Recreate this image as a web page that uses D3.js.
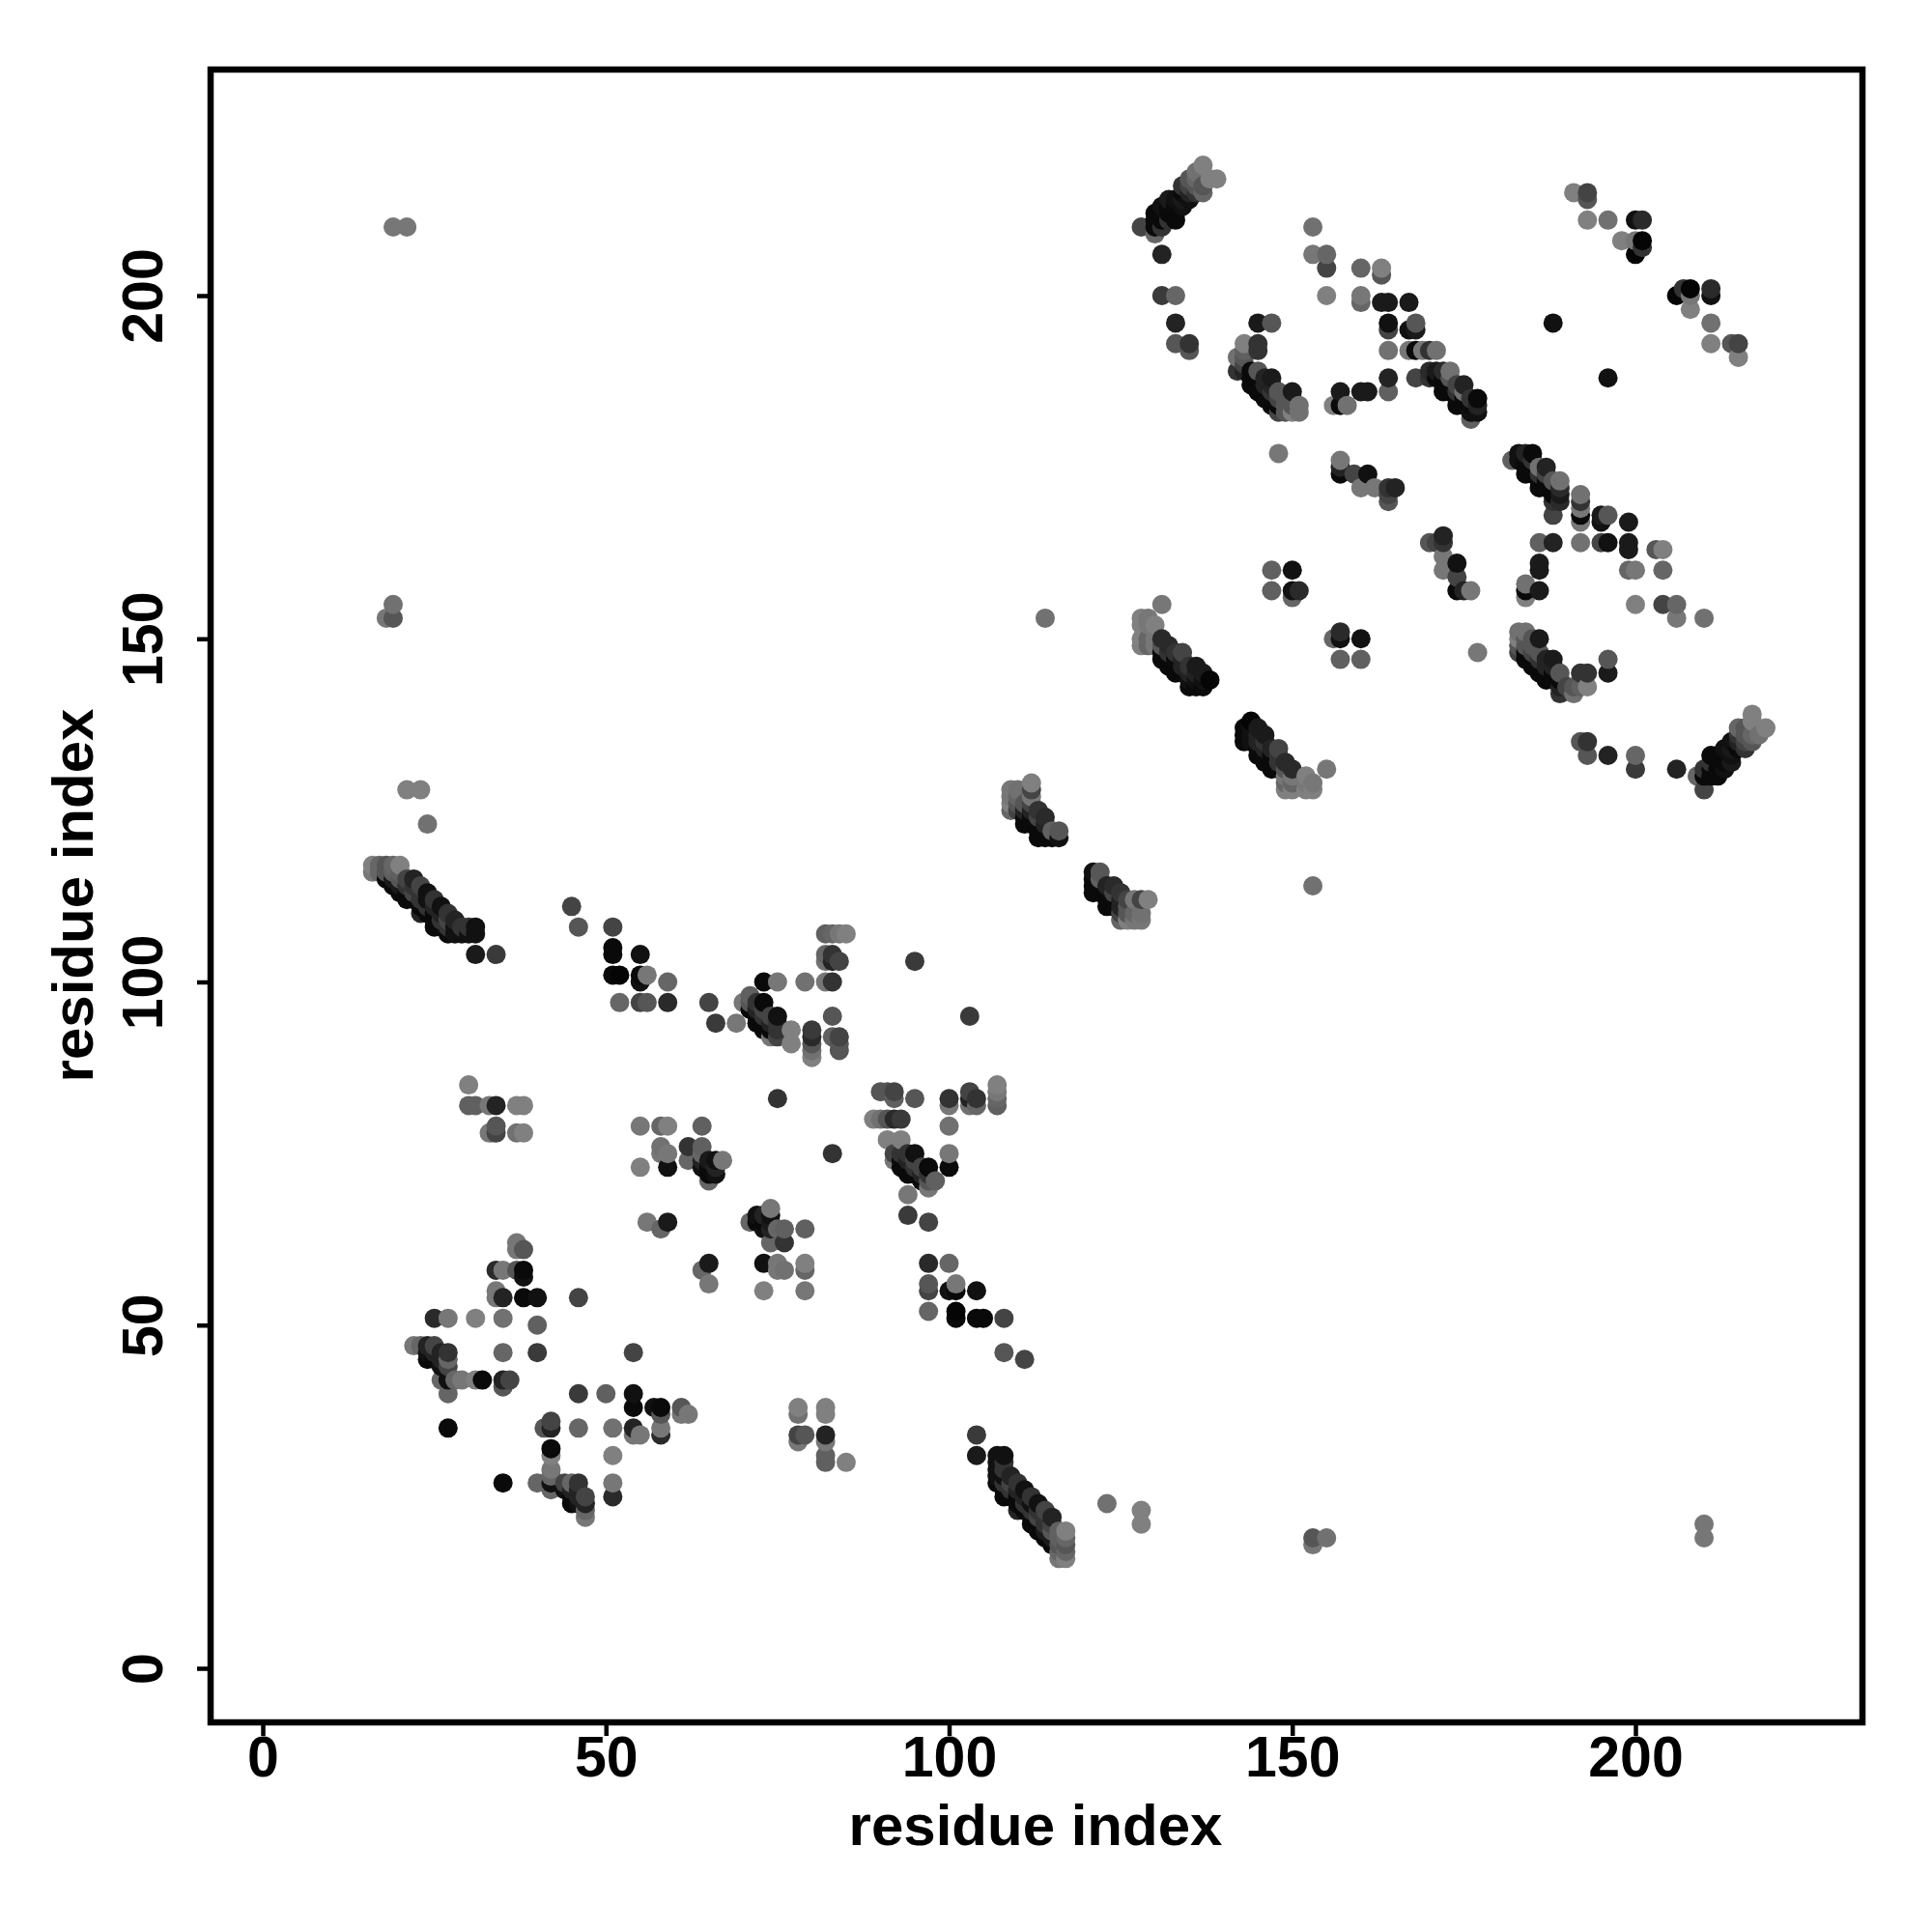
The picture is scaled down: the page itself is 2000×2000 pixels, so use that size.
<!DOCTYPE html>
<html>
<head>
<meta charset="utf-8">
<script src="https://cdn.jsdelivr.net/npm/d3@7"></script>
<style>
html,body{margin:0;padding:0;background:#fff}
svg{display:block}
text{font-family:"Liberation Sans",Arial,sans-serif;font-weight:700;fill:#000}
</style>
</head>
<body>
<div id="chart"></div>
<script>
// Each entry: residue i, residue j (i < j), contact score 0-100. The map is symmetric.
const xTicks = [0, 50, 100, 150, 200];
const yTicks = [0, 50, 100, 150, 200];
const xTitle = "residue index";
const yTitle = "residue index";

const longRange = [[19,210,7],[21,210,7],[18,153,7],[19,153,33],[19,155,12],[21,128,0],[23,128,0],[24,123,12],[114,153,12],[148,177,7],[188,196,87],[95,103,55],[75,83,60]];

const strandA = [[16,117,0],[16,116,7],[17,117,20],[17,116,20],[18,117,33],[18,116,33],[19,117,20],[19,116,25],[20,117,0],[20,116,25],[18,115,92],[19,115,80],[19,114,92],[20,115,33],[20,114,80],[20,113,92],[21,115,47],[21,114,60],[21,113,92],[21,112,92],[22,115,73],[22,114,60],[22,113,47],[22,112,92],[23,114,47],[23,113,60],[23,112,60],[23,111,92],[23,110,73],[24,113,87],[24,112,87],[24,111,60],[24,110,92],[25,112,60],[25,111,73],[25,110,92],[25,109,92],[25,108,92],[26,111,87],[26,110,73],[26,109,60],[26,108,92],[27,110,60],[27,109,47],[27,108,60],[27,107,92],[28,109,73],[28,108,87],[28,107,87],[29,108,60],[29,107,87],[30,108,60],[30,107,87],[31,108,87],[31,107,87],[31,104,80],[34,104,55]];

const lowerLeft = [[22,47,7],[23,47,20],[24,47,73],[25,47,47],[24,46,87],[25,46,73],[26,46,73],[27,46,60],[24,45,92],[25,45,92],[26,45,73],[27,45,20],[26,44,87],[27,44,47],[26,42,20],[27,42,87],[28,42,20],[29,42,7],[31,42,0],[32,42,92],[35,42,73],[36,42,47],[35,41,33],[27,40,20],[27,35,92],[35,46,20],[40,46,55],[46,54,47],[40,50,25],[25,51,67],[27,51,7],[31,51,0],[35,51,12],[34,54,7],[35,54,73],[38,54,92],[40,54,87],[34,55,7],[38,57,87],[34,58,67],[35,58,7],[37,58,33],[38,58,92],[37,61,7],[38,61,33],[37,62,7]];

const farLeft = [[30,85,0],[30,82,25],[31,82,25],[33,82,7],[34,82,73],[37,82,0],[38,82,0],[34,79,33],[33,78,7],[34,78,47],[37,78,12],[38,78,0]];

const midLeft = [[55,79,7],[58,79,20],[59,79,0],[64,79,25],[58,76,12],[58,75,7],[59,75,7],[55,73,0],[59,73,87],[62,76,60],[62,74,20],[64,76,25],[64,75,20],[64,74,73],[65,74,80],[66,74,87],[67,74,7],[64,73,87],[65,73,92],[66,73,73],[65,72,92],[66,72,87],[65,71,20],[56,65,7],[59,65,80],[58,64,20]];

const midBand = [[45,111,47],[46,108,33],[51,108,47],[51,105,92],[51,104,92],[55,104,87],[51,101,92],[52,101,96],[55,101,92],[56,101,7],[55,100,87],[59,100,20],[52,97,20],[55,97,47],[56,97,33],[59,97,67],[65,97,47],[66,94,55],[69,94,7]];

const helixBand = [[73,100,92],[75,100,7],[70,97,7],[71,98,25],[71,97,33],[72,97,60],[73,97,92],[71,96,92],[72,96,73],[73,96,47],[72,95,92],[73,95,60],[74,95,47],[75,95,87],[72,94,92],[73,94,92],[74,94,73],[75,94,60],[73,93,92],[74,93,92],[75,93,60],[74,92,7],[75,92,47],[77,93,0],[77,91,0],[80,93,55],[80,92,67],[80,91,33],[80,90,12],[80,89,0],[83,92,25],[84,92,47],[84,91,33],[84,90,33],[83,95,33],[79,100,12],[82,100,7],[83,100,60],[82,103,12],[82,104,20],[83,103,73],[83,104,60],[84,103,47],[82,107,25],[83,107,20],[84,107,7],[85,107,0]];

const upperHairpin = [[109,128,7],[110,128,12],[109,127,7],[110,127,20],[112,129,0],[112,128,47],[112,127,7],[109,126,0],[109,125,20],[110,126,33],[110,125,47],[111,126,33],[111,125,73],[111,124,92],[111,123,92],[112,126,47],[112,125,73],[112,124,92],[112,123,92],[113,125,60],[113,124,47],[113,123,92],[113,122,92],[113,121,92],[114,124,67],[114,123,73],[114,122,92],[114,121,92],[115,122,25],[115,121,92],[116,122,33],[116,121,87]];

const strandG = [[128,153,0],[129,153,7],[128,152,0],[129,152,7],[130,152,0],[128,150,0],[129,150,20],[130,150,7],[128,149,0],[129,149,20],[130,149,7],[131,155,7],[131,150,67],[131,149,33],[132,149,67],[134,148,47],[132,148,60],[133,148,60],[131,148,92],[131,147,92],[132,147,92],[133,147,92],[132,146,92],[133,146,92],[133,145,92],[134,147,73],[134,146,73],[134,145,92],[135,146,60],[135,145,73],[135,144,87],[135,143,92],[136,146,80],[136,145,73],[136,144,87],[136,143,92],[137,145,80],[137,144,87],[137,143,92],[138,144,96]];

const quartet = [[147,160,25],[150,160,87],[147,157,25],[150,157,87],[150,156,20],[151,157,67]];

const topBand = [[137,219,0],[139,217,0],[138,217,0],[136,218,12],[135,217,33],[136,217,20],[137,216,33],[137,215,20],[134,216,60],[135,216,47],[136,216,33],[134,215,92],[135,215,73],[136,215,60],[133,214,87],[134,214,80],[135,214,87],[132,214,80],[132,213,92],[133,213,92],[134,213,87],[131,213,87],[130,212,92],[131,212,92],[132,212,92],[133,212,92],[130,211,92],[131,211,92],[132,211,60],[133,211,92],[128,210,47],[130,210,92],[131,210,60],[130,209,20],[131,206,73],[131,200,55],[133,200,20],[133,196,73],[133,193,33],[135,193,60],[135,192,33]];

const innerSheet = [[145,196,80],[147,196,33],[143,193,0],[145,193,60],[145,192,60],[142,191,12],[143,192,25],[143,191,33],[142,189,60],[143,190,47],[143,189,73],[144,189,92],[145,189,33],[144,188,92],[145,188,92],[146,188,73],[144,187,92],[145,187,92],[146,187,73],[147,188,80],[145,186,92],[146,186,92],[147,187,73],[147,186,60],[146,185,92],[147,185,92],[148,186,33],[148,185,47],[147,184,92],[148,184,92],[149,185,33],[149,184,33],[150,186,80],[150,185,33],[150,184,33],[148,183,47],[149,183,33],[150,183,0],[151,184,12],[151,183,12]];

const rightLoop = [[153,210,12],[153,206,7],[155,206,20],[155,204,47],[155,200,0],[160,204,20],[163,204,0],[163,203,33],[160,200,7],[160,199,20],[163,199,80],[164,199,80],[167,199,80],[164,196,87],[164,195,47],[168,196,33],[167,195,87],[168,195,80],[164,192,12],[167,192,7],[168,192,92],[169,192,7],[170,192,60],[171,192,12],[164,188,73],[164,186,25],[168,188,47],[156,184,0],[157,184,92],[158,184,12],[157,186,80],[160,186,80],[161,186,80],[157,176,7],[157,175,73],[157,174,92],[159,174,47],[161,174,87],[160,172,7],[162,172,7],[164,172,60],[165,172,73],[164,171,47],[164,170,33]];

const sheetRight = [[170,189,67],[171,189,80],[172,189,67],[173,189,12],[170,188,60],[171,188,92],[172,188,92],[173,188,33],[172,187,92],[173,187,92],[174,187,47],[175,187,73],[172,186,92],[173,186,92],[174,186,60],[175,186,12],[174,185,92],[175,185,92],[176,185,60],[177,185,92],[174,184,92],[175,184,92],[176,184,92],[177,184,73],[176,183,87],[177,183,87],[176,182,25]];

const offDiagonal = [[191,215,0],[193,215,47],[193,214,33],[193,211,0],[196,211,12],[200,211,87],[201,211,67],[198,208,0],[200,208,7],[201,208,96],[201,207,60],[200,206,96]];

const contactLists = [longRange, strandA, lowerLeft, farLeft, midLeft, midBand, helixBand, upperHairpin, strandG, quartet, topBand, innerSheet, rightLoop, sheetRight, offDiagonal];

const width = 2000, height = 2000;
const box = {left: 218, right: 1928, top: 72, bottom: 1783};

const x = d3.scaleLinear().domain([0, 200]).range([272, 1693]);
const y = d3.scaleLinear().domain([0, 200]).range([1727, 306]);
const grey = d3.scaleLinear().domain([0, 100]).range(["#808080", "#000000"]);

const seen = new Map();
const addPair = (a, b, s) => {
  const key = a + "," + b;
  if (!seen.has(key)) seen.set(key, {a, b, s});
};
contactLists.flat().forEach(([i, j, s]) => {
  addPair(i, j, s);
  addPair(j, i, s);
});
const points = Array.from(seen.values())
  .sort((p, q) => d3.ascending(p.a, q.a) || d3.ascending(p.b, q.b));

const svg = d3.select("#chart").append("svg")
  .attr("width", width).attr("height", height);

svg.append("g").selectAll("circle").data(points).join("circle")
  .attr("cx", d => x(d.a))
  .attr("cy", d => y(d.b))
  .attr("r", 10)
  .attr("fill", d => grey(d.s));

svg.append("rect")
  .attr("x", box.left).attr("y", box.top)
  .attr("width", box.right - box.left).attr("height", box.bottom - box.top)
  .attr("fill", "none").attr("stroke", "#000").attr("stroke-width", 6.5);

const xAxis = svg.append("g").attr("transform", `translate(0,${box.bottom})`)
  .call(d3.axisBottom(x).tickValues(xTicks).tickFormat(d3.format("d")).tickSize(14).tickPadding(0));
const yAxis = svg.append("g").attr("transform", `translate(${box.left},0)`)
  .call(d3.axisLeft(y).tickValues(yTicks).tickFormat(d3.format("d")).tickSize(14));

[xAxis, yAxis].forEach(g => {
  g.select(".domain").remove();
  g.selectAll("line").attr("stroke", "#000").attr("stroke-width", 4.5);
  g.selectAll("text").attr("font-size", 59).attr("font-family", "Liberation Sans").attr("font-weight", 700).attr("fill", "#000");
});
yAxis.selectAll("text")
  .attr("text-anchor", "middle").attr("dy", null)
  .attr("x", null).attr("y", null)
  .attr("transform", "translate(-50,0) rotate(-90)");

svg.append("text").attr("x", 1072).attr("y", 1910)
  .attr("text-anchor", "middle").attr("font-size", 60).text(xTitle);
svg.append("text").attr("transform", "translate(96,927) rotate(-90)")
  .attr("text-anchor", "middle").attr("font-size", 60).text(yTitle);
</script>
</body>
</html>
